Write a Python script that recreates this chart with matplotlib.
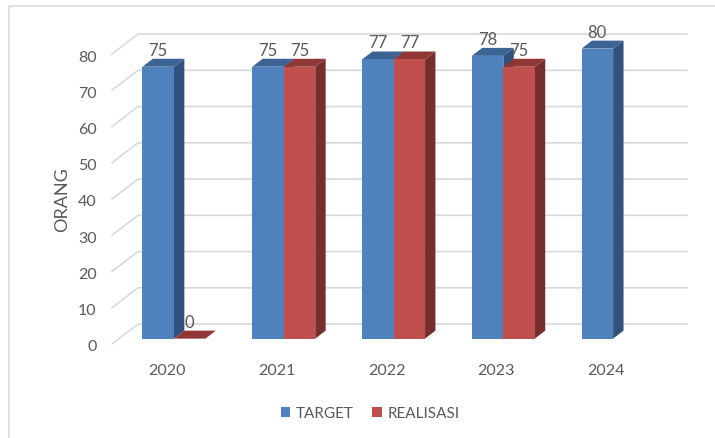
import matplotlib
matplotlib.use('Agg')
import matplotlib.pyplot as plt
from matplotlib.lines import Line2D
from matplotlib.patches import Polygon, Patch
from matplotlib.transforms import ScaledTranslation

years = ['2020', '2021', '2022', '2023', '2024']
target = [75, 75, 77, 78, 80]
realisasi = [0, 75, 77, 75, None]
y_ticks = [0, 10, 20, 30, 40, 50, 60, 70, 80]

plt.rcParams['font.family'] = ['Lato', 'DejaVu Sans']

GREY = '#595959'
BLUE = ('#4F81BD', '#3B6494', '#31527C')   # front, top, side
RED = ('#C0504D', '#8F3836', '#772F2D')

# oblique depth of the fake 3d box, in data units (category, value)
DX = 0.237
DY = 5.5
BAR_W = 0.287
D1, D2 = 0.27, 0.67   # bar front and back, as fraction of box depth


def proj(x, v, d):
    return (x + d * DX, v + d * DY)


def draw_bar(ax, x0, v, cols, zorder):
    x1 = x0 + BAR_W
    front = [proj(x0, 0, D1), proj(x1, 0, D1), proj(x1, v, D1), proj(x0, v, D1)]
    top = [proj(x0, v, D1), proj(x1, v, D1), proj(x1, v, D2), proj(x0, v, D2)]
    side = [proj(x1, 0, D1), proj(x1, 0, D2), proj(x1, v, D2), proj(x1, v, D1)]
    for pts, c in ((side, cols[2]), (top, cols[1]), (front, cols[0])):
        ax.add_patch(Polygon(pts, closed=True, fc=c, ec='none', zorder=zorder, clip_on=False))


def bar_label(ax, x, v):
    ax.annotate(str(v), proj(x, v, D1), xytext=(0, 12.3), textcoords='offset points', ha='center', va='center',
                fontsize=12, color=GREY, zorder=20, annotation_clip=False)


fig = plt.figure(figsize=(7.15, 4.39), dpi=100)
# only the left and top edge of the chart frame show in the picture
fig.add_artist(Line2D([8.5 / 715, 8.5 / 715, 1], [0, 1 - 6.5 / 439, 1 - 6.5 / 439], color='#dedede', lw=1.3))
ax = fig.add_axes([112 / 715, 1 - 345 / 439, 549 / 715, 290 / 439])
ax.set_xlim(-0.5, 4.5)
ax.set_ylim(0, 80)

for s in ax.spines.values():
    s.set_visible(False)
ax.patch.set_alpha(0)

# back wall grid and the diagonals on the left
for t in y_ticks:
    ax.plot([-0.5, -0.5 + DX, 4.5 + DX], [t, t + DY, t + DY], color='#d9d9d9', lw=1.2,
            clip_on=False, zorder=1, solid_joinstyle='miter')

for i in range(len(years)):
    x0 = i - BAR_W
    draw_bar(ax, x0, target[i], BLUE, 3 + i)
    bar_label(ax, x0 + BAR_W / 2, target[i])
    if realisasi[i] is not None:
        draw_bar(ax, i, realisasi[i], RED, 3.5 + i)
        bar_label(ax, i + BAR_W / 2, realisasi[i])

ax.set_xticks(range(len(years)))
ax.set_xticklabels(years)
ax.set_yticks(y_ticks)
ax.tick_params(axis='both', length=0, labelsize=11.5, labelcolor=GREY)
ax.tick_params(axis='x', pad=13.5)
ax.tick_params(axis='y', pad=11)
for lab in ax.get_yticklabels():
    lab.set_transform(lab.get_transform() + ScaledTranslation(0, -1 / 100, fig.dpi_scale_trans))
ax.set_ylabel('ORANG', fontsize=13, color=GREY)
ax.yaxis.set_label_coords((70 - 112) / 549, (345 - 200) / 290)

handles = [Patch(fc=BLUE[0], label='TARGET'), Patch(fc=RED[0], label='REALISASI')]
fig.legend(handles=handles, loc='center', bbox_to_anchor=(370 / 715, 1 - 414 / 439), ncol=2, frameon=False,
           fontsize=11, labelcolor=GREY, handlelength=0.65, handleheight=0.65, handletextpad=0.35, columnspacing=1.2)

fig.savefig('out.png', dpi=100)
